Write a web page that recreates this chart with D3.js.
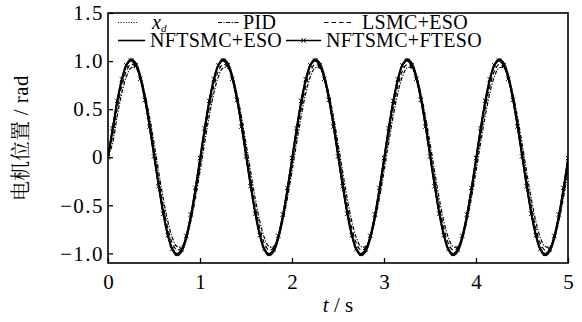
<!DOCTYPE html>
<html>
<head>
<meta charset="utf-8">
<script src="https://cdn.jsdelivr.net/npm/d3@7"></script>
<style>
  body { margin: 0; background: #fff; }
  svg { display: block; }
  text, tspan { font-family: "Liberation Serif", "Times New Roman", serif; fill: #000; }
</style>
</head>
<body>
<svg id="chart" width="582" height="322"></svg>
<script>
// Sample instants (s)
const times = [
  0, 0.05, 0.1, 0.15, 0.2, 0.25, 0.3, 0.35, 0.4, 0.45, 0.5, 0.55, 0.6, 0.65, 0.7, 0.75, 0.8, 0.85, 0.9, 0.95,
  1, 1.05, 1.1, 1.15, 1.2, 1.25, 1.3, 1.35, 1.4, 1.45, 1.5, 1.55, 1.6, 1.65, 1.7, 1.75, 1.8, 1.85, 1.9, 1.95,
  2, 2.05, 2.1, 2.15, 2.2, 2.25, 2.3, 2.35, 2.4, 2.45, 2.5, 2.55, 2.6, 2.65, 2.7, 2.75, 2.8, 2.85, 2.9, 2.95,
  3, 3.05, 3.1, 3.15, 3.2, 3.25, 3.3, 3.35, 3.4, 3.45, 3.5, 3.55, 3.6, 3.65, 3.7, 3.75, 3.8, 3.85, 3.9, 3.95,
  4, 4.05, 4.1, 4.15, 4.2, 4.25, 4.3, 4.35, 4.4, 4.45, 4.5, 4.55, 4.6, 4.65, 4.7, 4.75, 4.8, 4.85, 4.9, 4.95,
  5
];

// Reference position x_d (rad)
const xdValues = [
  0, 0.309, 0.588, 0.809, 0.951, 1, 0.951, 0.809, 0.588, 0.309, 0, -0.309, -0.588, -0.809, -0.951, -1, -0.951, -0.809, -0.588, -0.309,
  0, 0.309, 0.588, 0.809, 0.951, 1, 0.951, 0.809, 0.588, 0.309, 0, -0.309, -0.588, -0.809, -0.951, -1, -0.951, -0.809, -0.588, -0.309,
  0, 0.309, 0.588, 0.809, 0.951, 1, 0.951, 0.809, 0.588, 0.309, 0, -0.309, -0.588, -0.809, -0.951, -1, -0.951, -0.809, -0.588, -0.309,
  0, 0.309, 0.588, 0.809, 0.951, 1, 0.951, 0.809, 0.588, 0.309, 0, -0.309, -0.588, -0.809, -0.951, -1, -0.951, -0.809, -0.588, -0.309,
  0, 0.309, 0.588, 0.809, 0.951, 1, 0.951, 0.809, 0.588, 0.309, 0, -0.309, -0.588, -0.809, -0.951, -1, -0.951, -0.809, -0.588, -0.309,
  0
];

// PID response (rad)
const pidValues = [
  0, 0.147, 0.427, 0.665, 0.838, 0.929, 0.929, 0.838, 0.665, 0.427, 0.147, -0.147, -0.427, -0.665, -0.838, -0.929, -0.929, -0.838, -0.665, -0.427,
  -0.147, 0.147, 0.427, 0.665, 0.838, 0.929, 0.929, 0.838, 0.665, 0.427, 0.147, -0.147, -0.427, -0.665, -0.838, -0.929, -0.929, -0.838, -0.665, -0.427,
  -0.147, 0.147, 0.427, 0.665, 0.838, 0.929, 0.929, 0.838, 0.665, 0.427, 0.147, -0.147, -0.427, -0.665, -0.838, -0.929, -0.929, -0.838, -0.665, -0.427,
  -0.147, 0.147, 0.427, 0.665, 0.838, 0.929, 0.929, 0.838, 0.665, 0.427, 0.147, -0.147, -0.427, -0.665, -0.838, -0.929, -0.929, -0.838, -0.665, -0.427,
  -0.147, 0.147, 0.427, 0.665, 0.838, 0.929, 0.929, 0.838, 0.665, 0.427, 0.147, -0.147, -0.427, -0.665, -0.838, -0.929, -0.929, -0.838, -0.665, -0.427,
  -0.147
];

// LSMC+ESO response (rad)
const lsmcValues = [
  0, 0.226, 0.506, 0.737, 0.896, 0.967, 0.943, 0.827, 0.630, 0.372, 0.076, -0.226, -0.506, -0.737, -0.896, -0.967, -0.943, -0.827, -0.630, -0.372,
  -0.076, 0.226, 0.506, 0.737, 0.896, 0.967, 0.943, 0.827, 0.630, 0.372, 0.076, -0.226, -0.506, -0.737, -0.896, -0.967, -0.943, -0.827, -0.630, -0.372,
  -0.076, 0.226, 0.506, 0.737, 0.896, 0.967, 0.943, 0.827, 0.630, 0.372, 0.076, -0.226, -0.506, -0.737, -0.896, -0.967, -0.943, -0.827, -0.630, -0.372,
  -0.076, 0.226, 0.506, 0.737, 0.896, 0.967, 0.943, 0.827, 0.630, 0.372, 0.076, -0.226, -0.506, -0.737, -0.896, -0.967, -0.943, -0.827, -0.630, -0.372,
  -0.076, 0.226, 0.506, 0.737, 0.896, 0.967, 0.943, 0.827, 0.630, 0.372, 0.076, -0.226, -0.506, -0.737, -0.896, -0.967, -0.943, -0.827, -0.630, -0.372,
  -0.076
];

// NFTSMC+ESO response (rad)
const nftsmcEsoValues = [
  0, 0.285, 0.573, 0.806, 0.960, 1.019, 0.979, 0.844, 0.625, 0.346, 0.032, -0.285, -0.573, -0.806, -0.960, -1.019, -0.979, -0.844, -0.625, -0.346,
  -0.032, 0.285, 0.573, 0.806, 0.960, 1.019, 0.979, 0.844, 0.625, 0.346, 0.032, -0.285, -0.573, -0.806, -0.960, -1.019, -0.979, -0.844, -0.625, -0.346,
  -0.032, 0.285, 0.573, 0.806, 0.960, 1.019, 0.979, 0.844, 0.625, 0.346, 0.032, -0.285, -0.573, -0.806, -0.960, -1.019, -0.979, -0.844, -0.625, -0.346,
  -0.032, 0.285, 0.573, 0.806, 0.960, 1.019, 0.979, 0.844, 0.625, 0.346, 0.032, -0.285, -0.573, -0.806, -0.960, -1.019, -0.979, -0.844, -0.625, -0.346,
  -0.032, 0.285, 0.573, 0.806, 0.960, 1.019, 0.979, 0.844, 0.625, 0.346, 0.032, -0.285, -0.573, -0.806, -0.960, -1.019, -0.979, -0.844, -0.625, -0.346,
  -0.032
];

// NFTSMC+FTESO response (rad)
const nftsmcFtesoValues = [
  0, 0.302, 0.587, 0.810, 0.954, 1.005, 0.957, 0.816, 0.596, 0.318, 0.009, -0.302, -0.587, -0.810, -0.954, -1.005, -0.957, -0.816, -0.596, -0.318,
  -0.009, 0.302, 0.587, 0.810, 0.954, 1.005, 0.957, 0.816, 0.596, 0.318, 0.009, -0.302, -0.587, -0.810, -0.954, -1.005, -0.957, -0.816, -0.596, -0.318,
  -0.009, 0.302, 0.587, 0.810, 0.954, 1.005, 0.957, 0.816, 0.596, 0.318, 0.009, -0.302, -0.587, -0.810, -0.954, -1.005, -0.957, -0.816, -0.596, -0.318,
  -0.009, 0.302, 0.587, 0.810, 0.954, 1.005, 0.957, 0.816, 0.596, 0.318, 0.009, -0.302, -0.587, -0.810, -0.954, -1.005, -0.957, -0.816, -0.596, -0.318,
  -0.009, 0.302, 0.587, 0.810, 0.954, 1.005, 0.957, 0.816, 0.596, 0.318, 0.009, -0.302, -0.587, -0.810, -0.954, -1.005, -0.957, -0.816, -0.596, -0.318,
  -0.009
];

const xTicks = [0, 1, 2, 3, 4, 5];
const yTicks = [-1.0, -0.5, 0, 0.5, 1.0, 1.5];
const seriesNames = ["x_d", "PID", "LSMC+ESO", "NFTSMC+ESO", "NFTSMC+FTESO"];

// ---- drawing ----
(function draw() {
  const svg = d3.select("#chart");
  const pLeft = 108, pRight = 568, pTop = 13, pBottom = 263;
  const serif = '"Liberation Serif", "Times New Roman", serif';

  const x = d3.scaleLinear().domain([0, 5]).range([pLeft, pRight]);
  const y = d3.scaleLinear().domain([-1.1, 1.5]).range([pBottom, pTop]);

  const styles = {
    "x_d":          { width: 1.1, dash: "1,1.6" },
    "PID":          { width: 1.2, dash: "4,1.5,1.2,1.5" },
    "LSMC+ESO":     { width: 1.2, dash: "4.5,3" },
    "NFTSMC+ESO":   { width: 2.2, dash: null },
    "NFTSMC+FTESO": { width: 1.3, dash: null, marker: true }
  };

  const seriesValues = [xdValues, pidValues, lsmcValues, nftsmcEsoValues, nftsmcFtesoValues];
  const series = seriesNames.map((name, i) => ({
    name,
    points: times.map((t, j) => [t, seriesValues[i][j]])
  }));

  const line = d3.line()
    .x(d => x(d[0]))
    .y(d => y(d[1]))
    .curve(d3.curveCatmullRom.alpha(0.5));

  svg.append("defs").append("clipPath").attr("id", "plotClip")
    .append("rect").attr("x", pLeft).attr("y", pTop)
    .attr("width", pRight - pLeft).attr("height", pBottom - pTop);

  const curves = svg.append("g").attr("clip-path", "url(#plotClip)");
  const xMark = "M-2.2,-2.2L2.2,2.2M-2.2,2.2L2.2,-2.2";
  series.forEach(s => {
    const st = styles[s.name];
    curves.append("path")
      .attr("d", line(s.points))
      .attr("fill", "none")
      .attr("stroke", "#000")
      .attr("stroke-width", st.width)
      .attr("stroke-dasharray", st.dash)
      .attr("stroke-linejoin", "round");
    if (st.marker) {
      curves.append("g").selectAll("path")
        .data(s.points)
        .join("path")
        .attr("transform", d => `translate(${x(d[0])},${y(d[1])})`)
        .attr("d", xMark)
        .attr("stroke", "#000")
        .attr("stroke-width", 1);
    }
  });

  // Axes with inward ticks
  const fmtY = v => v === 0 ? "0" : d3.format(".1f")(v);

  const xAxis = svg.append("g")
    .attr("transform", `translate(0,${pBottom})`)
    .call(d3.axisBottom(x).tickValues(xTicks).tickFormat(d3.format("d"))
      .tickSizeInner(-5).tickSizeOuter(0).tickPadding(11));
  const yAxis = svg.append("g")
    .attr("transform", `translate(${pLeft},0)`)
    .call(d3.axisLeft(y).tickValues(yTicks).tickFormat(fmtY)
      .tickSizeInner(-5).tickSizeOuter(0).tickPadding(4));

  [xAxis, yAxis].forEach(g => {
    g.select(".domain").remove();
    g.selectAll(".tick line").attr("stroke", "#000").attr("stroke-width", 1.3);
    g.selectAll(".tick text")
      .attr("fill", "#000")
      .style("font-family", serif)
      .style("font-size", "21px");
  });
  yAxis.selectAll(".tick text").style("letter-spacing", "1.5px");

  // Frame
  svg.append("rect")
    .attr("x", pLeft).attr("y", pTop)
    .attr("width", pRight - pLeft).attr("height", pBottom - pTop)
    .attr("fill", "none").attr("stroke", "#000").attr("stroke-width", 1.6);

  // Legend
  const legendItems = [
    { name: "x_d",          lx: 118, len: 20, ty: 29, tx: 152 },
    { name: "PID",          lx: 218, len: 22, ty: 29, tx: 243 },
    { name: "LSMC+ESO",     lx: 324, len: 30, ty: 29, tx: 362 },
    { name: "NFTSMC+ESO",   lx: 118, len: 27, ty: 47, tx: 150 },
    { name: "NFTSMC+FTESO", lx: 286, len: 35, ty: 47, tx: 326 }
  ];
  const legend = svg.append("g");
  legendItems.forEach(it => {
    const st = styles[it.name];
    const ly = it.ty - 6.5;
    legend.append("line")
      .attr("x1", it.lx).attr("x2", it.lx + it.len)
      .attr("y1", ly).attr("y2", ly)
      .attr("stroke", "#000")
      .attr("stroke-width", Math.min(st.width, 1.6))
      .attr("stroke-dasharray", st.dash);
    if (st.marker) {
      legend.append("path")
        .attr("transform", `translate(${it.lx + it.len / 2},${ly})`)
        .attr("d", xMark)
        .attr("stroke", "#000").attr("stroke-width", 1);
    }
    const t = legend.append("text")
      .attr("x", it.tx).attr("y", it.ty)
      .style("font-size", "20px");
    if (it.name === "x_d") {
      t.append("tspan").style("font-style", "italic").text("x");
      t.append("tspan").style("font-style", "italic").style("font-size", "11px").attr("dy", 3).text("d");
    } else {
      t.style("letter-spacing", "0.3px").text(it.name);
    }
  });

  // Axis titles
  const xTitle = svg.append("text")
    .attr("x", (pLeft + pRight) / 2).attr("y", 312)
    .attr("text-anchor", "middle")
    .style("font-size", "21px");
  xTitle.append("tspan").style("font-style", "italic").text("t");
  xTitle.append("tspan").text(" / s");

  const yTitle = svg.append("text")
    .attr("transform", `translate(28,${(pTop + pBottom) / 2}) rotate(-90)`)
    .attr("text-anchor", "middle")
    .style("font-size", "21px")
    .style("opacity", 0.999);
  yTitle.append("tspan")
    .style("font-family", '"Noto Serif CJK SC", "Noto Sans CJK SC", sans-serif')
    .style("font-size", "20px")
    .attr("fill", "#000")
    .text("电机位置");
  yTitle.append("tspan").attr("fill", "#000").style("letter-spacing", "0.5px").text(" / rad");
})();
</script>
</body>
</html>
